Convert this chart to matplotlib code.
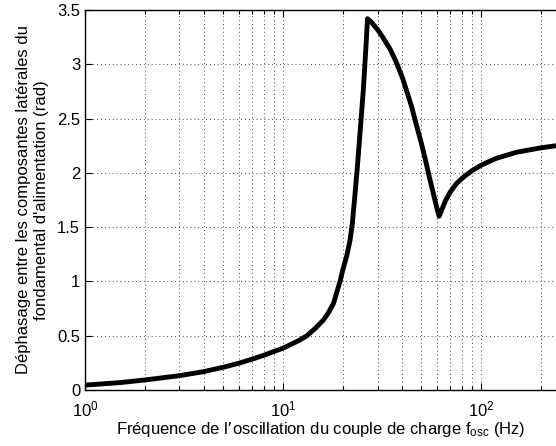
import matplotlib
matplotlib.use("Agg")
import matplotlib.pyplot as plt
from matplotlib.ticker import LogLocator, NullFormatter, FixedLocator

plt.rcParams['font.family'] = ['Liberation Sans', 'DejaVu Sans']
plt.rcParams['mathtext.default'] = 'regular'

# Phase shift between the lateral components vs. load torque oscillation frequency
freq_hz = [1.0, 1.5, 2.0, 3.0, 4.0, 5.0, 6.0, 7.0, 8.0, 9.0, 10.0, 12.0, 13.2,
           14.5, 16.0, 17.0, 18.0, 19.4, 20.0, 21.0, 21.8, 22.4, 23.0, 23.6,
           24.2, 24.8, 25.4, 25.9, 26.3, 26.7, 28.0, 30.0, 32.0, 34.7, 37.0,
           40.0, 42.0, 44.6, 47.0, 50.0, 52.5, 55.0, 57.5, 60.0, 61.4, 63.0,
           66.0, 69.7, 75.0, 81.4, 90.0, 100.0, 110.0, 120.0, 151.0, 200.0, 239.0]
phase_rad = [0.045, 0.068, 0.092, 0.132, 0.17, 0.21, 0.247, 0.285, 0.32, 0.355,
             0.385, 0.455, 0.50, 0.565, 0.645, 0.715, 0.80, 1.00, 1.10, 1.24, 1.38,
             1.54, 1.77, 2.00, 2.25, 2.50, 2.75, 3.00, 3.20, 3.42, 3.385, 3.32,
             3.245, 3.14, 3.035, 2.88, 2.76, 2.61, 2.45, 2.27, 2.11, 1.95, 1.805,
             1.666, 1.60, 1.65, 1.74, 1.82, 1.90, 1.96, 2.02, 2.07, 2.105, 2.135,
             2.19, 2.23, 2.25]
y_ticks = [0, 0.5, 1, 1.5, 2, 2.5, 3, 3.5]
y_tick_labels = ['0', '0.5', '1', '1.5', '2', '2.5', '3', '3.5']

fig = plt.figure(figsize=(5.56, 4.46), dpi=100)
ax = fig.add_axes([85 / 556, 56 / 446, 1 - 85 / 556, (390 - 10) / 446])

ax.plot(freq_hz, phase_rad, color='black', linewidth=3.5,
        solid_joinstyle='round', solid_capstyle='butt')

ax.set_xscale('log')
ax.set_xlim(1, 239)
ax.set_ylim(0, 3.5)
ax.xaxis.set_major_locator(LogLocator(base=10, numticks=10))
ax.xaxis.set_minor_locator(LogLocator(base=10, subs=range(2, 10), numticks=20))
ax.xaxis.set_minor_formatter(NullFormatter())
ax.yaxis.set_major_locator(FixedLocator(y_ticks))
ax.set_yticklabels(y_tick_labels)

ax.grid(True, which='major', axis='both', linestyle=(0, (1, 3)), color='#444444', linewidth=0.7)
ax.grid(True, which='minor', axis='x', linestyle=(0, (1, 3)), color='#444444', linewidth=0.7)

ax.tick_params(which='both', direction='in', top=True, right=False, labelsize=12,
               width=0.8)
ax.tick_params(which='major', length=5)
ax.tick_params(which='minor', length=3)
ax.tick_params(axis='x', pad=7)
ax.spines['right'].set_visible(False)
for s in ('left', 'bottom', 'top'):
    ax.spines[s].set_linewidth(1.0)

ax.set_xlabel('Fréquence de l\u2019oscillation du couple de charge f$_{osc}$ (Hz)',
              fontsize=12, labelpad=0)
ax.set_ylabel("Déphasage entre les composantes latérales du\nfondamental d'alimentation (rad)",
              fontsize=12, labelpad=6, linespacing=1.2)

fig.savefig('out.png', dpi=100)
